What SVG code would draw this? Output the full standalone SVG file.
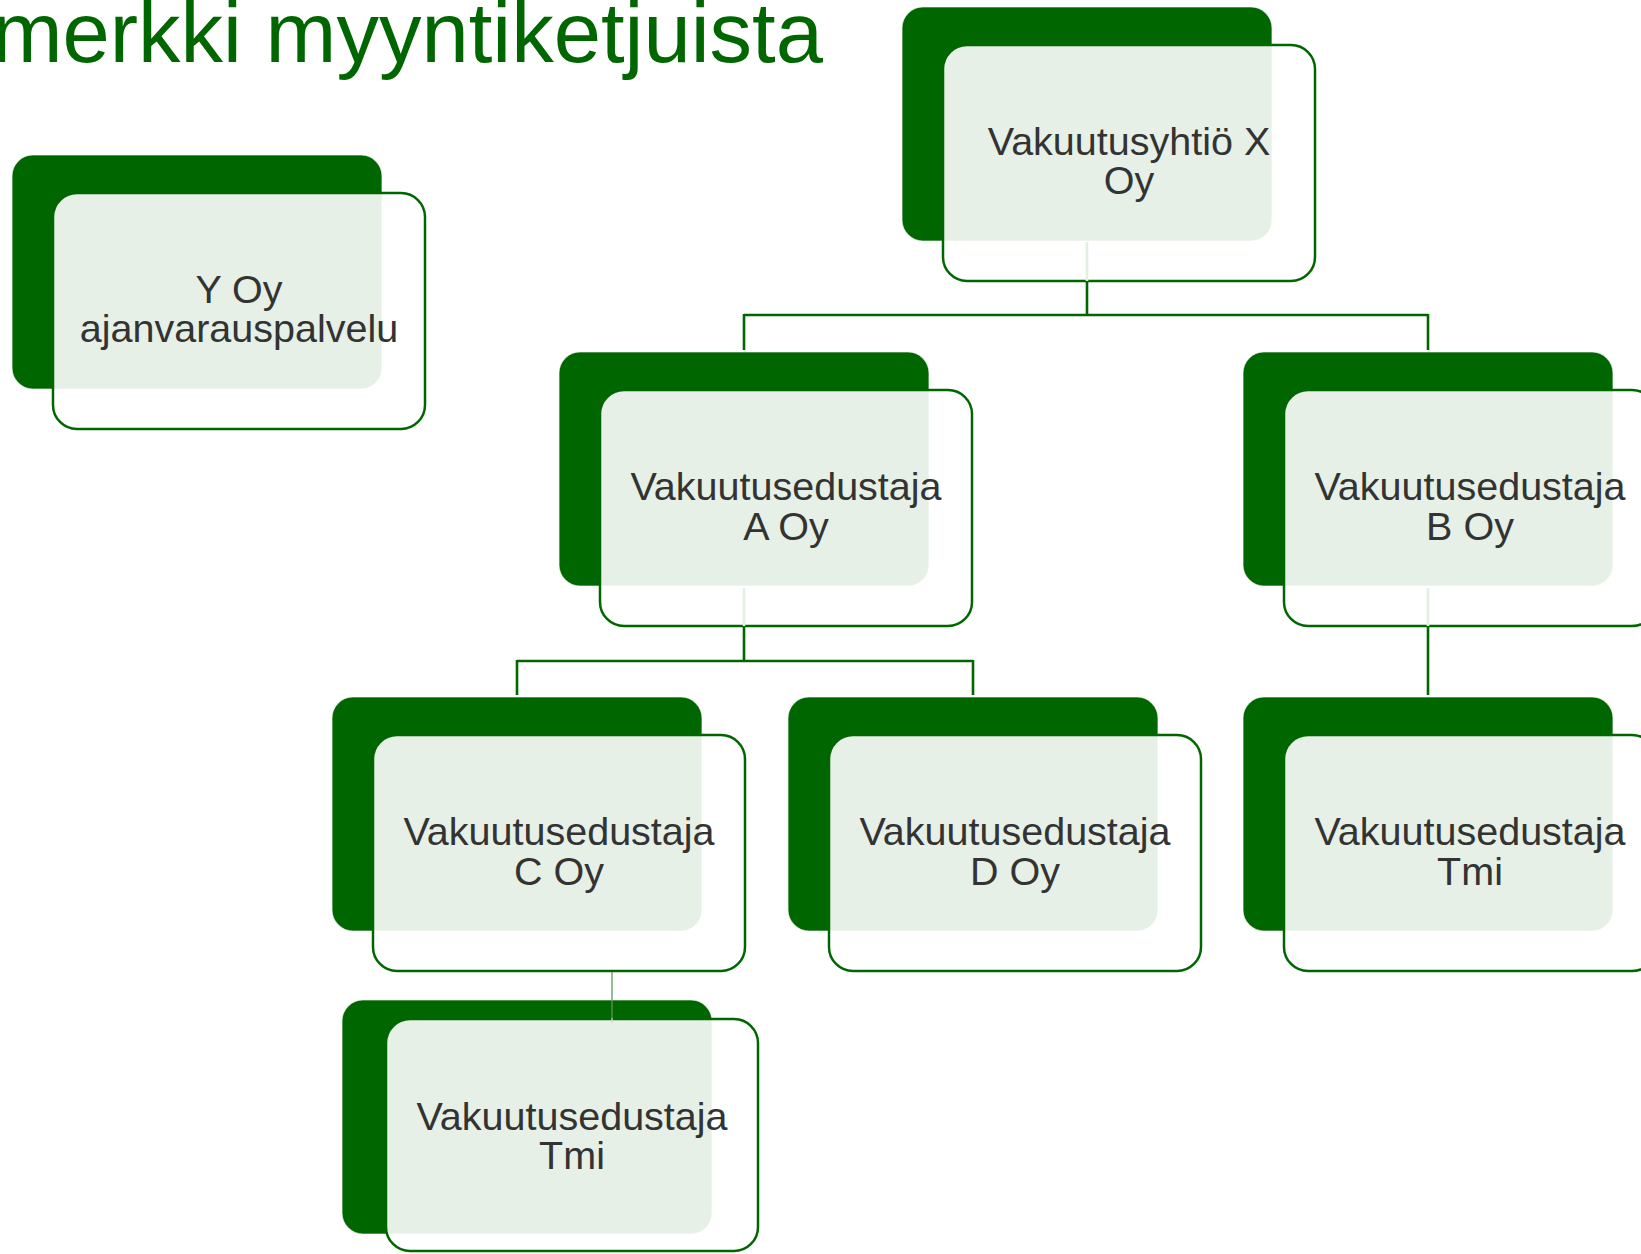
<svg xmlns="http://www.w3.org/2000/svg" width="1641" height="1254" viewBox="0 0 1641 1254">
  <style>
    .back { fill: #006600; stroke: #ffffff; stroke-opacity: 0.6; stroke-width: 1.2; }
    .front { fill: #ffffff; fill-opacity: 0.9; stroke: #006600; stroke-width: 2.5; }
    .label { font-family: "Liberation Sans", Arial, sans-serif; font-size: 39.5px; fill: #333333; text-anchor: middle; }
    .title { font-family: "Liberation Sans", Arial, sans-serif; font-size: 85px; fill: #006600; text-anchor: end; }
    .conn { stroke: #006600; stroke-width: 2.6; fill: none; }
    .conn-faint { stroke: #e4efe4; stroke-width: 2.6; fill: none; }
    .conn-thin { stroke: #5a9a5a; stroke-width: 1.3; fill: none; }
  </style>

  <rect width="1641" height="1254" fill="#ffffff"/>

  <text class="title" x="823" y="62">merkki myyntiketjuista</text>

  <!-- nodes: dark back card + translucent front card + label -->
  <g id="node-y-oy">
    <rect class="back" x="12" y="155" width="370" height="234" rx="21"/>
    <rect class="front" x="53" y="193" width="372" height="236" rx="24"/>
    <text class="label" x="239" y="303">Y Oy</text>
    <text class="label" x="239" y="342">ajanvarauspalvelu</text>
  </g>

  <g id="node-x">
    <rect class="back" x="902" y="7" width="370" height="234" rx="21"/>
    <rect class="front" x="943" y="45" width="372" height="236" rx="24"/>
    <text class="label" x="1129" y="155">Vakuutusyhtiö X</text>
    <text class="label" x="1129" y="194">Oy</text>
  </g>

  <g id="node-a">
    <rect class="back" x="559" y="352" width="370" height="234" rx="21"/>
    <rect class="front" x="600" y="390" width="372" height="236" rx="24"/>
    <text class="label" x="786" y="500">Vakuutusedustaja</text>
    <text class="label" x="786" y="540">A Oy</text>
  </g>

  <g id="node-b">
    <rect class="back" x="1243" y="352" width="370" height="234" rx="21"/>
    <rect class="front" x="1284" y="390" width="372" height="236" rx="24"/>
    <text class="label" x="1470" y="500">Vakuutusedustaja</text>
    <text class="label" x="1470" y="540">B Oy</text>
  </g>

  <g id="node-c">
    <rect class="back" x="332" y="697" width="370" height="234" rx="21"/>
    <rect class="front" x="373" y="735" width="372" height="236" rx="24"/>
    <text class="label" x="559" y="845">Vakuutusedustaja</text>
    <text class="label" x="559" y="885">C Oy</text>
  </g>

  <g id="node-d">
    <rect class="back" x="788" y="697" width="370" height="234" rx="21"/>
    <rect class="front" x="829" y="735" width="372" height="236" rx="24"/>
    <text class="label" x="1015" y="845">Vakuutusedustaja</text>
    <text class="label" x="1015" y="885">D Oy</text>
  </g>

  <g id="node-b-tmi">
    <rect class="back" x="1243" y="697" width="370" height="234" rx="21"/>
    <rect class="front" x="1284" y="735" width="372" height="236" rx="24"/>
    <text class="label" x="1470" y="845">Vakuutusedustaja</text>
    <text class="label" x="1470" y="885">Tmi</text>
  </g>

  <g id="node-c-tmi">
    <rect class="back" x="342" y="1000" width="370" height="234" rx="21"/>
    <rect class="front" x="386" y="1019" width="372" height="232" rx="24"/>
    <text class="label" x="572" y="1130">Vakuutusedustaja</text>
    <text class="label" x="572" y="1169">Tmi</text>
  </g>

  <!-- connectors -->
  <g id="connectors">
    <line class="conn-faint" x1="1087" y1="242" x2="1087" y2="281"/>
    <path class="conn" d="M1087 282 V315 M744 315 H1428 M744 314 V350 M1428 314 V350"/>

    <line class="conn-faint" x1="744" y1="588" x2="744" y2="626"/>
    <path class="conn" d="M744 627 V661 M517 661 H973 M517 660 V695 M973 660 V695"/>

    <line class="conn-faint" x1="1428" y1="588" x2="1428" y2="626"/>
    <path class="conn" d="M1428 627 V695"/>

    <line class="conn-thin" x1="612" y1="972" x2="612" y2="1018"/>
    <line x1="612" y1="1018" x2="612" y2="1023" stroke="#c8dcc8" stroke-width="1.3"/>
  </g>
</svg>
